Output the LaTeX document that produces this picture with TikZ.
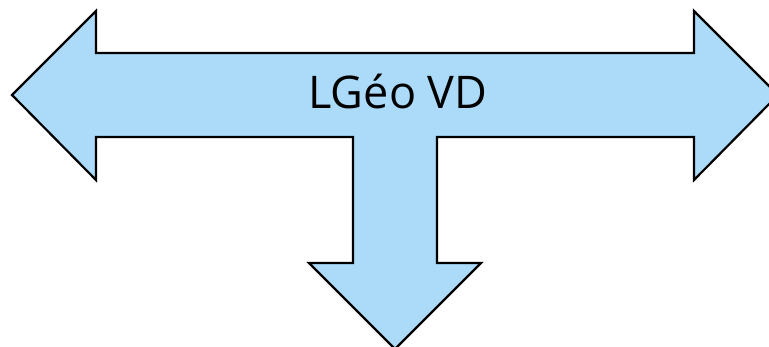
\documentclass[tikz,border=0pt]{standalone}
\usepackage{fontspec}
\setmainfont{Open Sans}
\newlength{\du}
\setlength{\du}{1pt}
\begin{document}
\begin{tikzpicture}
\pgftransformxscale{1.000000}
\pgftransformyscale{-1.000000}
\useasboundingbox (0\du,0\du) rectangle (769\du,347\du);
\clip (0\du,0\du) rectangle (769\du,347\du);
\definecolor{dialinecolor}{rgb}{0.670000, 0.858000, 0.972000}
\pgfsetfillcolor{dialinecolor}
\pgfsetlinewidth{2.200000\du}
\pgfsetmiterjoin
\definecolor{dialinecolor}{rgb}{0.000000, 0.000000, 0.000000}
\pgfsetstrokecolor{dialinecolor}
% three way arrow
\filldraw (12.000000\du,95.000000\du)--(96.000000\du,11.000000\du)--(96.000000\du,53.000000\du)--(694.000000\du,53.000000\du)--(694.000000\du,11.000000\du)--(778.000000\du,95.000000\du)--(694.000000\du,180.000000\du)--(694.000000\du,137.000000\du)--(437.000000\du,137.000000\du)--(437.000000\du,263.000000\du)--(481.000000\du,263.000000\du)--(395.000000\du,349.000000\du)--(309.000000\du,263.000000\du)--(353.000000\du,263.000000\du)--(353.000000\du,137.000000\du)--(96.000000\du,137.000000\du)--(96.000000\du,180.000000\du)--cycle;
% label
\node[font=\fontsize{45}{52}\selectfont, inner sep=0pt] (label) at (398.000000\du,91.000000\du){LGéo VD};
\end{tikzpicture}
\end{document}
